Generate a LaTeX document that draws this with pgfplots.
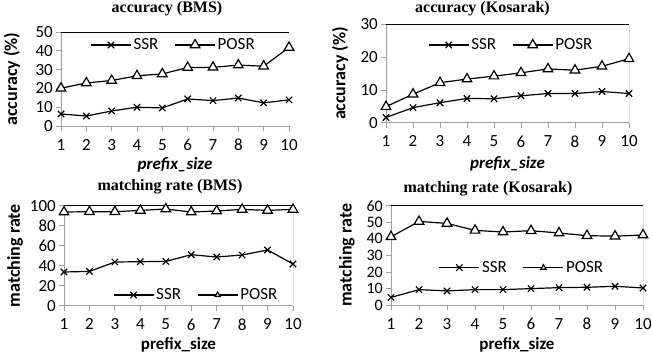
\documentclass[border=0pt]{standalone}
\usepackage{fontspec}
\setmainfont{Carlito}
\newfontfamily\titlefont{Liberation Serif}
\usepackage{graphicx}
\usepackage{pgfplots}
\pgfplotsset{compat=1.18}

\pgfplotstableread{
x ssr posr
1 6.4 20.1
2 5.3 22.9
3 8.0 24.2
4 10.0 26.7
5 9.6 27.7
6 14.4 31.1
7 13.5 31.2
8 14.9 32.4
9 12.3 31.8
10 13.9 41.8
}\accbms

\pgfplotstableread{
x ssr posr
1 1.6 4.9
2 4.6 8.7
3 6.1 12.2
4 7.4 13.3
5 7.3 14.2
6 8.2 15.2
7 8.9 16.4
8 8.9 16.0
9 9.5 17.2
10 8.9 19.5
}\acckos

\pgfplotstableread{
x ssr posr
1 33.7 93.7
2 34.3 94.0
3 43.7 94.0
4 44.0 95.3
5 44.3 96.7
6 51.0 93.7
7 48.7 94.7
8 50.7 96.3
9 55.7 95.3
10 41.7 96.3
}\matbms

\pgfplotstableread{
x ssr posr
1 4.6 41.2
2 9.3 50.5
3 8.5 49.3
4 9.3 45.1
5 9.3 44.1
6 9.9 44.9
7 10.5 43.5
8 10.7 41.9
9 11.3 41.6
10 10.3 42.3
}\matkos

\pgfplotsset{
 panel/.style={
  scale only axis,
  anchor=south west,
  xmin=1, xmax=10, xtick={1,...,10},
  ymin=0,
  axis x line*=bottom, axis y line*=left,
  axis line style={gray!75, line width=0.8pt},
  tick style={gray!75, line width=0.8pt},
  tick align=outside,
  major tick length=5pt,
  /pgf/number format/assume math mode=true,
  ticklabel style={font=\fontsize{17}{20}\selectfont, black},
  yticklabel style={inner sep=1pt, xshift=-2pt},
  xticklabel style={inner sep=1pt, yshift=-7pt},
  ylabel style={font=\fontsize{18}{21}\selectfont\bfseries, anchor=center},
  xlabel style={font=\fontsize{17}{20}\selectfont\bfseries, anchor=center, at={(axis description cs:0.5,0)}, inner sep=1pt},
  title style={font=\titlefont\fontsize{16}{19}\selectfont\bfseries, anchor=center, at={(axis description cs:0.5,1)}},
  legend style={draw=none, fill=none, font=\fontsize{17}{20}\selectfont, anchor=west, legend columns=2,
    /tikz/every even column/.append style={column sep=14pt}},
  legend cell align=left,
  legend image code/.code={\draw[mark repeat=2,mark phase=2,##1] plot coordinates {(0pt,0pt) (20pt,0pt) (40pt,0pt)};},
 },
 ssrstyle/.style={black, line width=1.2pt, mark=x, mark size=4.5pt, mark options={line width=1.2pt}},
 posrstyle/.style={black, line width=1.2pt, mark=triangle*, mark size=5.5pt, mark options={fill=white, line width=1.2pt}},
}

\newcommand{\frametr}{\draw[black, line width=0.9pt] (rel axis cs:0,1) -- (rel axis cs:1,1) -- (rel axis cs:1,0);}

\begin{document}
\begin{tikzpicture}
\path[use as bounding box] (0pt,0pt) rectangle (652pt,354pt);

% Panel 1: accuracy (BMS)
\begin{axis}[panel, at={(61pt,228pt)}, width=228pt, height=94pt,
  ymax=50, ytick={0,10,...,50},
  title={accuracy (BMS)}, title style={xshift=-8pt, yshift=17pt},
  ylabel={accuracy (\%)}, ylabel style={at={(axis description cs:-0.215,0.5)}},
  xlabel={\itshape prefix\_size}, xlabel style={yshift=-39pt},
  legend style={at={(axis description cs:0.115,0.862)}}]
\addplot[ssrstyle] table[x=x,y=ssr] {\accbms};
\addlegendentry{SSR}
\addplot[posrstyle] table[x=x,y=posr] {\accbms};
\addlegendentry{POSR}
\frametr
\end{axis}

% Panel 2: accuracy (Kosarak)
\begin{axis}[panel, at={(386pt,231.3pt)}, width=243pt, height=98.4pt,
  ymax=30, ytick={0,10,20,30},
  title={accuracy (Kosarak)}, title style={xshift=-25pt, yshift=9.5pt},
  ylabel={accuracy (\%)}, ylabel style={at={(axis description cs:-0.189,0.5)}},
  xlabel={\itshape prefix\_size}, xlabel style={yshift=-41pt},
  legend style={at={(axis description cs:0.16,0.79)}}]
\addplot[ssrstyle] table[x=x,y=ssr] {\acckos};
\addlegendentry{SSR}
\addplot[posrstyle] table[x=x,y=posr] {\acckos};
\addlegendentry{POSR}
\frametr
\end{axis}

% Panel 3: matching rate (BMS)
\begin{axis}[panel, at={(64pt,48.3pt)}, width=229pt, height=100pt,
  ymax=100, ytick={0,20,...,100},
  title={matching rate (BMS)}, title style={xshift=-8.5pt, yshift=12.7pt},
  ylabel={matching rate}, ylabel style={at={(axis description cs:-0.214,0.5)}},
  xlabel={prefix\_size}, xlabel style={yshift=-39.5pt},
  legend style={at={(axis description cs:0.2,0.107)}}]
\addplot[ssrstyle] table[x=x,y=ssr] {\matbms};
\addlegendentry{SSR}
\addplot[posrstyle, legend image post style={mark size=3pt}] table[x=x,y=posr] {\matbms};
\addlegendentry{POSR}
\frametr
\end{axis}

% Panel 4: matching rate (Kosarak)
\begin{axis}[panel, at={(391pt,49pt)}, width=252pt, height=99.3pt,
  ymax=60, ytick={0,10,...,60},
  yticklabel style={font=\fontsize{16}{17}\selectfont},
  title={matching rate (Kosarak)}, title style={xshift=-29pt, yshift=10.7pt},
  ylabel={matching rate}, ylabel style={at={(axis description cs:-0.175,0.5)}},
  xlabel={prefix\_size}, xlabel style={yshift=-39.5pt},
  legend style={at={(axis description cs:0.177,0.376)}}]
\addplot[ssrstyle] table[x=x,y=ssr] {\matkos};
\addlegendentry{SSR}
\addplot[posrstyle, legend image post style={mark size=3pt}] table[x=x,y=posr] {\matkos};
\addlegendentry{POSR}
\frametr
\end{axis}
\end{tikzpicture}
\end{document}
